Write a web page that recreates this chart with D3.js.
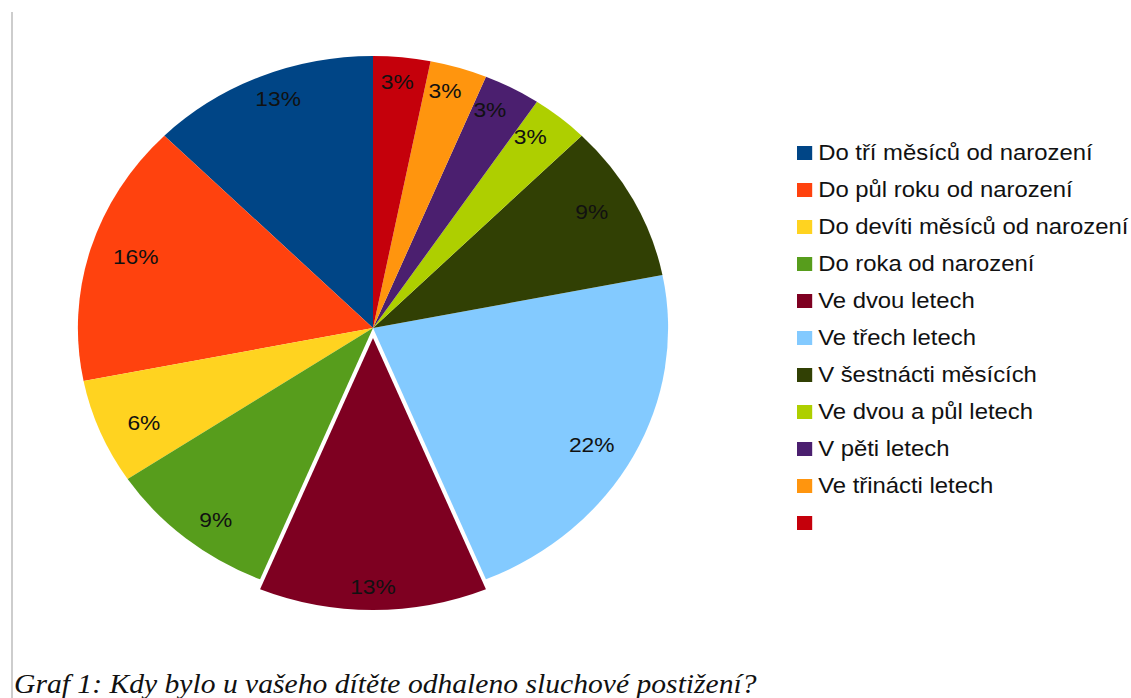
<!DOCTYPE html>
<html>
<head>
<meta charset="utf-8">
<script src="https://cdn.jsdelivr.net/npm/d3@7"></script>
<style>
  html, body { margin: 0; padding: 0; background: #fff; }
  svg { display: block; }
</style>
</head>
<body>
<svg id="chart" width="1131" height="698"></svg>
<script>
// ---- data ----
const categories = [
  "Do tří měsíců od narození",
  "Do půl roku od narození",
  "Do devíti měsíců od narození",
  "Do roka od narození",
  "Ve dvou letech",
  "Ve třech letech",
  "V šestnácti měsících",
  "Ve dvou a půl letech",
  "V pěti letech",
  "Ve třinácti letech",
  ""
];
const counts = [4, 5, 2, 3, 4, 7, 3, 1, 1, 1, 1];
const percentLabels = ["13%", "16%", "6%", "9%", "13%", "22%", "9%", "3%", "3%", "3%", "3%"];
const colors = ["#004586", "#ff420e", "#ffd320", "#579d1c", "#7e0021", "#83caff",
                "#314004", "#aecf00", "#4b1f6f", "#ff950e", "#c5000b"];
const exploded = ["Ve dvou letech"];
const title = "Graf 1: Kdy bylo u vašeho dítěte odhaleno sluchové postižení?";

// ---- layout ----
const svg = d3.select("#chart");
svg.append("rect").attr("width", 1131).attr("height", 698).attr("fill", "#fff");

// left gray frame line
svg.append("line").attr("x1", 12).attr("x2", 12).attr("y1", 12).attr("y2", 698)
  .attr("stroke", "#cdcdcd").attr("stroke-width", 2);

const cx = 373, cy = 328, R = 272, sx = 1.085, explodeDist = 10, labelR = 248;

const data = categories.map((c, i) => ({ name: c, value: counts[i], label: percentLabels[i], color: colors[i] }));

const pie = d3.pie().value(d => d.value).sort(null)
  .startAngle(0).endAngle(-2 * Math.PI);
const arcs = pie(data);
const arc = d3.arc().innerRadius(0).outerRadius(R);
const labelArc = d3.arc().innerRadius(labelR).outerRadius(labelR);

const g = svg.append("g").attr("transform", `translate(${cx},${cy}) scale(${sx},1)`);

const slices = g.selectAll("g.slice").data(arcs).join("g")
  .attr("class", "slice")
  .attr("transform", d => {
    if (!exploded.includes(d.data.name)) return null;
    const mid = (d.startAngle + d.endAngle) / 2;
    return `translate(${Math.sin(mid) * explodeDist},${-Math.cos(mid) * explodeDist})`;
  });

slices.append("path").attr("d", arc).attr("fill", d => d.data.color);

// labels: placed on a circle in screen space (undo the horizontal stretch of the position)
slices.append("text")
  .attr("transform", d => { const c = labelArc.centroid(d); return `translate(${c[0] / sx},${c[1]})`; })
  .attr("text-anchor", "middle")
  .attr("dy", "0.36em")
  .attr("font-family", "'Liberation Sans', Arial, sans-serif")
  .attr("font-size", 21)
  .attr("fill", "#111")
  .text(d => d.data.label);

// ---- legend ----
const legend = svg.append("g").attr("transform", `translate(797,0) scale(${sx},1)`);
const rowY = d3.scalePoint().domain(d3.range(categories.length)).range([152, 522]);
const items = legend.selectAll("g.item").data(data).join("g")
  .attr("class", "item")
  .attr("transform", (d, i) => `translate(0,${rowY(i)})`);
items.append("rect").attr("x", 0).attr("y", -6).attr("width", 14).attr("height", 14)
  .attr("fill", d => d.color);
items.append("text").attr("x", 19.5).attr("y", 8)
  .attr("font-family", "'Liberation Sans', Arial, sans-serif")
  .attr("font-size", 22).attr("fill", "#111")
  .text(d => d.name);

// ---- title (caption) ----
const t = svg.append("text")
  .attr("font-family", "'Liberation Serif', 'Times New Roman', serif")
  .attr("font-style", "italic")
  .attr("font-size", 27)
  .attr("fill", "#111")
  .text(title);
const w = t.node().getComputedTextLength();
const targetW = 743;
t.attr("transform", `translate(14,693) scale(${targetW / w},1)`);
</script>
</body>
</html>
